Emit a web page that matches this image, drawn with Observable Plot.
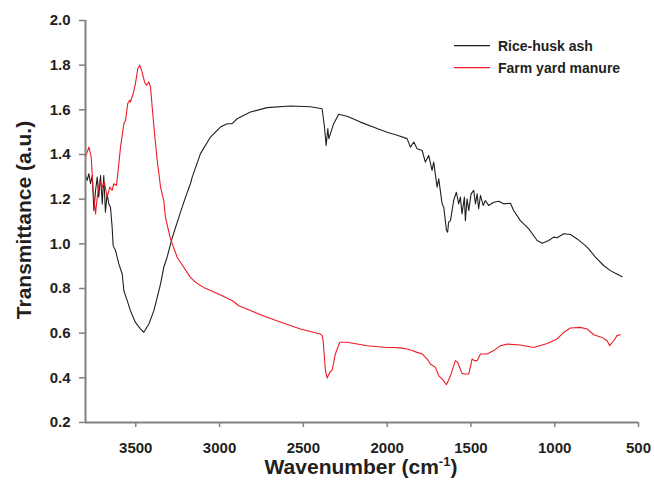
<!DOCTYPE html>
<html>
<head>
<meta charset="utf-8">
<script src="https://cdn.jsdelivr.net/npm/d3@7"></script>
<script src="https://cdn.jsdelivr.net/npm/@observablehq/plot@0.6"></script>
<style>
  html, body { margin: 0; padding: 0; background: #ffffff; }
  #chart { width: 654px; height: 485px; }
</style>
</head>
<body>
<div id="chart"></div>
<script>
// ---- Data ----
const seriesNames = ["Rice-husk ash", "Farm yard manure"];
const seriesColors = ["#231f20", "#ed1c24"];

const xTicks = [3500, 3000, 2500, 2000, 1500, 1000, 500];
const yTicks = [0.2, 0.4, 0.6, 0.8, 1.0, 1.2, 1.4, 1.6, 1.8, 2.0];

// Rice-husk ash
const rhaWave = [3800,3790,3780,3770,3760,3750,3740,3730,3721,3710,
  3700,3691,3681,3671,3661,3651,3641,3635,3621,3601,
  3581,3571,3551,3532,3502,3472,3452,3422,3392,3372,
  3352,3333,3313,3283,3233,3203,3174,3163,3114,3054,
  2995,2955,2925,2895,2816,2716,2577,2458,2388,2374,
  2364,2354,2348,2319,2289,2239,2159,2060,2000,1940,
  1881,1861,1841,1821,1791,1772,1752,1732,1722,1702,
  1692,1672,1662,1646,1639,1633,1622,1603,1587,1573,
  1563,1553,1539,1533,1523,1513,1499,1483,1473,1463,
  1454,1443,1427,1414,1394,1364,1334,1304,1264,1245,
  1205,1155,1105,1075,1036,1006,986,946,906,866,
  817,797,757,708,668,638,598];
const rhaT = [1.306,1.284,1.314,1.269,1.306,1.149,1.239,1.299,1.209,1.306,
  1.179,1.306,1.142,1.224,1.179,1.164,1.074,0.992,0.970,0.910,
  0.865,0.790,0.746,0.701,0.648,0.619,0.604,0.641,0.701,0.760,
  0.821,0.895,0.940,1.026,1.142,1.209,1.269,1.299,1.404,1.478,
  1.523,1.538,1.538,1.560,1.590,1.610,1.617,1.614,1.605,1.523,
  1.441,1.516,1.471,1.538,1.580,1.571,1.545,1.516,1.500,1.486,
  1.471,1.433,1.456,1.426,1.418,1.366,1.396,1.329,1.366,1.254,
  1.291,1.179,1.164,1.060,1.052,1.097,1.104,1.194,1.231,1.179,
  1.209,1.134,1.209,1.104,1.202,1.149,1.224,1.239,1.179,1.224,
  1.157,1.217,1.172,1.194,1.172,1.186,1.191,1.179,1.182,1.149,
  1.104,1.067,1.015,1.003,1.015,1.030,1.027,1.045,1.042,1.022,
  0.992,0.977,0.940,0.903,0.880,0.868,0.853];

// Farm yard manure
const fymWave = [3800,3780,3766,3754,3740,3730,3715,3700,3687,3671,
  3655,3641,3631,3615,3601,3591,3571,3561,3548,3536,
  3532,3515,3502,3488,3476,3462,3448,3436,3422,3412,
  3402,3388,3372,3352,3333,3323,3293,3253,3214,3174,
  3154,3114,3094,3054,2984,2945,2925,2885,2816,2716,
  2617,2517,2398,2388,2382,2368,2358,2342,2328,2309,
  2283,2239,2119,2000,1961,1921,1881,1851,1821,1791,
  1761,1742,1712,1692,1672,1646,1622,1593,1579,1553,
  1533,1513,1493,1479,1463,1443,1403,1364,1324,1284,
  1205,1125,1045,986,946,906,847,807,767,717,
  687,672,648,628,608];
const fymT = [1.388,1.433,1.388,1.239,1.134,1.209,1.284,1.254,1.276,1.209,
  1.254,1.239,1.269,1.261,1.359,1.433,1.538,1.553,1.628,1.643,
  1.635,1.673,1.717,1.785,1.800,1.769,1.725,1.710,1.725,1.702,
  1.612,1.493,1.373,1.254,1.194,1.119,1.022,0.940,0.895,0.850,
  0.835,0.813,0.805,0.791,0.768,0.753,0.746,0.723,0.701,0.671,
  0.644,0.619,0.596,0.589,0.566,0.432,0.399,0.424,0.435,0.507,
  0.559,0.559,0.544,0.536,0.536,0.534,0.529,0.522,0.514,0.507,
  0.484,0.462,0.447,0.409,0.395,0.369,0.409,0.477,0.469,0.420,
  0.417,0.417,0.484,0.477,0.477,0.507,0.507,0.522,0.544,0.551,
  0.547,0.536,0.554,0.574,0.604,0.623,0.626,0.619,0.593,0.581,
  0.566,0.544,0.566,0.589,0.593];

const rha = rhaWave.map((w, i) => ({w, t: rhaT[i]}));
const fym = fymWave.map((w, i) => ({w, t: fymT[i]}));

const FONT = '"Liberation Sans", Arial, Helvetica, sans-serif';
const TEXT = "#231f20";
const AXIS = "#808080";

const chart = Plot.plot({
  width: 654,
  height: 485,
  marginLeft: 85,
  marginRight: 16,
  marginTop: 20,
  marginBottom: 63,
  style: {fontFamily: FONT, fontSize: "15px", fontWeight: "bold", color: TEXT, background: "#ffffff", overflow: "visible"},
  x: {domain: [3800, 500], axis: null},
  y: {domain: [0.2, 2.0], axis: null},
  marks: [
    Plot.line(rha, {x: "w", y: "t", stroke: seriesColors[0], strokeWidth: 1.1}),
    Plot.line(fym, {x: "w", y: "t", stroke: seriesColors[1], strokeWidth: 1.1}),
    Plot.ruleX([3800], {stroke: AXIS, strokeWidth: 2}),
    Plot.ruleY([0.2], {stroke: AXIS, strokeWidth: 2}),
    Plot.axisY(yTicks, {tickSize: 6, tickPadding: 9, tickFormat: d3.format(".1f"), stroke: AXIS, strokeWidth: 1.5, fill: TEXT, fontSize: 15, fontWeight: "bold", label: null}),
    Plot.axisX(xTicks, {tickSize: 5, tickPadding: 15, tickFormat: d => String(d), stroke: AXIS, strokeWidth: 1.5, fill: TEXT, fontSize: 15, fontWeight: "bold", label: null})
  ]
});

document.getElementById("chart").appendChild(chart);

const svg = d3.select(chart);

// Y axis title
svg.append("text")
  .attr("transform", "translate(23.5,220) rotate(-90)")
  .attr("text-anchor", "middle")
  .attr("dy", "0.36em")
  .attr("font-family", FONT)
  .attr("font-size", 21)
  .attr("font-weight", "bold")
  .attr("fill", TEXT)
  .text("Transmittance (a.u.)");

// X axis title with superscript
const xt = svg.append("text")
  .attr("x", 361)
  .attr("y", 474)
  .attr("text-anchor", "middle")
  .attr("font-family", FONT)
  .attr("font-size", 21)
  .attr("font-weight", "bold")
  .attr("fill", TEXT);
xt.append("tspan").text("Wavenumber (cm");
xt.append("tspan").attr("font-size", 13).attr("dy", -8).text("-1");
xt.append("tspan").attr("dy", 8).text(")");

// Legend
const legend = svg.append("g");
const legendY = [45.7, 67.7];
seriesNames.forEach((name, i) => {
  legend.append("line")
    .attr("x1", 454).attr("x2", 490)
    .attr("y1", legendY[i]).attr("y2", legendY[i])
    .attr("stroke", seriesColors[i]).attr("stroke-width", 1.2);
  legend.append("text")
    .attr("x", 498).attr("y", legendY[i]).attr("dy", "0.36em")
    .attr("text-anchor", "start")
    .attr("font-family", FONT).attr("font-size", 14).attr("font-weight", "bold")
    .attr("fill", TEXT)
    .text(name);
});
</script>
</body>
</html>
